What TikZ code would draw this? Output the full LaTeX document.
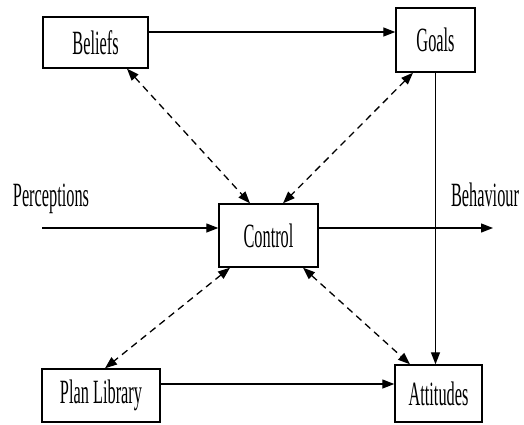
\documentclass[tikz,border=0pt]{standalone}
\usepackage{fontspec}
\setmainfont{Liberation Serif}[FakeStretch=0.48]
\usetikzlibrary{arrows.meta}
\begin{document}
\begin{tikzpicture}[x=1pt,y=-1pt,
  box/.style={draw,line width=1.4pt,rectangle,inner sep=0pt,font=\fontsize{34}{36}\selectfont},
  lbl/.style={inner sep=0pt,anchor=base,font=\fontsize{34}{36}\selectfont},
  conn/.style={line width=1.3pt,-{Triangle[length=12pt,width=9pt]}},
  dconn/.style={line width=1.3pt,dash pattern=on 7pt off 5pt,{Triangle[length=12pt,width=9pt]}-{Triangle[length=12pt,width=9pt]}}]
\useasboundingbox (0,0) rectangle (524,424);
\node[box,minimum width=105pt,minimum height=51pt] (bel) at (95.5,42.5) {Beliefs};
\node[box,minimum width=79pt,minimum height=64pt] (goa) at (435.5,40) {Goals};
\node[box,minimum width=99pt,minimum height=63pt] (con) at (268.5,235.5) {Control};
\node[box,minimum width=118pt,minimum height=53pt] (pla) at (101,395.5) {Plan Library};
\node[box,minimum width=87pt,minimum height=57pt] (att) at (438.5,393.5) {Attitudes};
\node[lbl] (per) at (51,206) {Perceptions};
\node[lbl] (beh) at (485,206) {Behaviour};
\coordinate (ybg) at (0,32);
\coordinate (pin) at (42,228);
\coordinate (bout) at (493,228);
\coordinate (ypa) at (0,384);
\draw[conn] (bel.east |- ybg) -- (goa.west |- ybg);
\draw[conn] (goa.south) -- (goa.south |- att.north);
\draw[conn] (pin) -- (con.west |- pin);
\draw[conn] (con.east |- pin) -- (bout);
\draw[conn] (pla.east |- ypa) -- (att.west |- ypa);
\draw[dconn] ([xshift=31.5pt]bel.south) -- ([xshift=-18.5pt]con.north);
\draw[dconn] ([xshift=-22.5pt]goa.south) -- ([xshift=14.5pt]con.north);
\draw[dconn] ([xshift=-38.5pt]con.south) -- ([xshift=4pt]pla.north);
\draw[dconn] ([xshift=34.5pt]con.south) -- ([xshift=-28.5pt]att.north);
\end{tikzpicture}
\end{document}
